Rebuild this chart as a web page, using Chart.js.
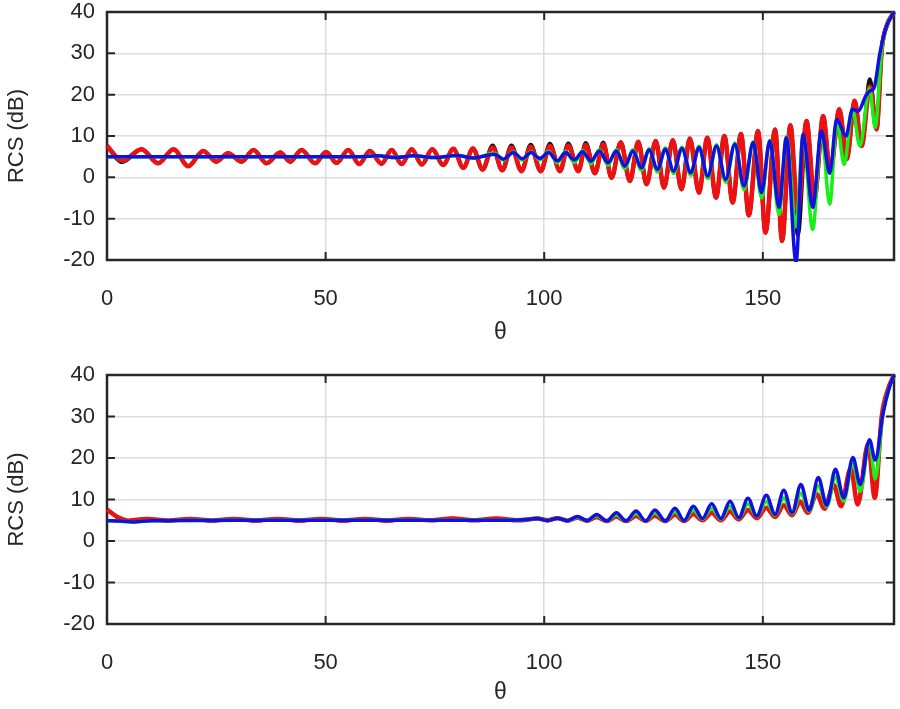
<!DOCTYPE html>
<html><head><meta charset="utf-8">
<script src="https://cdn.jsdelivr.net/npm/chart.js@4/dist/chart.umd.min.js"></script>
<style>
html,body{margin:0;padding:0;background:#fff;}
#c1{position:absolute;left:0;top:0;}
#c2{position:absolute;left:0;top:355px;}
</style></head><body>
<canvas id="c1" width="900" height="355"></canvas>
<canvas id="c2" width="900" height="354"></canvas>
<script>
// ---------- tick labels ----------
const xTickValues = [0, 50, 100, 150];
const yTickValues = [-20, -10, 0, 10, 20, 30, 40];
const xTitle = 'θ';
const yTitle = 'RCS (dB)';

// ---------- top panel ----------
const topRedTheta = [0,3.5,7.9,11.7,15.2,18.6,22,25,27.7,30.8,33.5,36.5,39.6,41.9,44.5,47.6,50.1,52.5,55.2,57.7,60.1,62.8,65.1,67.4,69.7,72,74.4,76.9,79.2,81.5,83.7,85.9,88.2,90.4,92.5,94.8,96.9,99.2,101.3,103.6,105.5,107.8,109.5,111.6,113.5,115.4,117.5,119.6,121.5,123.4,125.5,127.4,129.4,131.4,133.3,135.4,137.3,139.3,141.2,143.1,145,146.8,148.9,150.6,152.8,154.4,156.3,158,160,161.8,163.8,165.4,167.5,169.2,171,172.6,174.5,176,177.2,178.3,180];
const topRedRcs = [7.6,4.0,6.8,3.4,6.8,2.7,6.4,3.8,5.8,3.8,6.6,3.4,6.0,3.8,6.6,3.4,6.1,3.5,6.6,3.2,6.4,3.3,6.6,3.2,6.8,3.1,6.8,3.0,6.9,2.3,7.0,1.9,7.2,1.7,7.2,1.5,7.4,1.5,7.6,1.5,7.7,1.5,7.8,1.0,8.0,-0.1,8.4,-0.9,8.6,-1.7,8.8,-2.5,9.0,-2.9,9.4,-3.7,9.6,-4.9,10.0,-6.1,10.5,-9.2,11.2,-13.4,11.6,-15.4,12.6,-8,13.6,-5.3,14.8,1.2,16.5,4.4,18.5,7.6,22,11.6,31,36.6,40];
const topBlackRcs = [7.6,3.7,6.8,3.4,6.8,2.7,6.4,3.8,5.8,3.8,6.6,3.4,6.0,3.8,6.6,3.4,6.1,3.5,6.6,3.2,6.4,3.3,6.6,3.2,6.8,3.1,6.8,3.0,6.9,2.3,7.0,1.9,7.7,1.7,7.7,1.5,7.9,1.5,8.1,1.5,8.2,1.5,8.3,1.0,8.4,-0.1,8.5,-0.9,8.6,-1.7,8.8,-2.5,9.0,-2.9,9.4,-3.7,9.6,-4.9,10.0,-6.1,10.5,-9.2,11.2,-13.4,11.6,-15.4,12.6,-14,13.6,-5.3,14.8,1.2,16.5,4.4,18.5,7.6,23.7,11.6,31,36.6,40];
const topBlueTheta = [0,20,40,58,62,66,70,75,80,84,88.6,90.7,92.9,95.0,97.0,99.0,101.0,103.0,104.9,106.9,108.8,110.7,112.6,114.6,116.5,118.4,120.3,122.2,124.0,125.9,127.7,129.6,131.5,133.5,135.4,137.4,139.4,141.5,143.6,145.7,147.8,149.7,151.6,153.7,155.4,157.6,159.2,161.4,163.4,165.3,166.9,169.0,170.5,171.8,173.6,174.6,175.4,176.8,178.3,180];
const topBlueRcs = [5.0,5.0,5.0,5.0,5.2,4.8,5.2,4.8,5.3,4.7,5.6,4.4,6.0,4.5,6.0,4.6,6.0,4.0,6.0,4.2,6.2,3.9,6.4,3.5,6.4,2.7,6.4,2.3,6.6,1.9,6.8,1.5,7.0,1.1,7.2,0.3,7.6,-0.5,8.0,-2.1,8.4,-3.7,8.8,-7.3,9.6,-20.5,10.4,-7.3,11.2,1.0,14.0,10.0,16.5,16.0,19.8,21.0,21.5,30.2,36.6,40];
const topGreenTheta = [0,20,40,58,62,66,70,75,80,84,88.6,90.7,92.9,95.0,97.0,99.0,101.0,103.0,104.9,106.9,108.8,110.7,112.6,114.6,116.5,118.4,120.3,122.2,124.0,125.9,127.7,129.6,131.5,133.5,135.4,137.4,139.4,141.5,143.6,145.7,147.8,149.7,151.6,153.7,155.4,157.6,159.2,161.4,163.4,165.3,166.9,168.6,170.5,172.2,174.4,175.7,177.2,178.3,180];
const topGreenRcs = [5.0,5.0,5.0,5.0,5.2,4.8,5.2,4.8,5.3,4.7,5.8,4.2,6.2,4.2,6.2,4.2,6.3,3.5,6.3,3.6,6.5,3.3,6.7,2.9,6.7,2.1,6.7,1.7,6.9,1.3,7.1,0.9,7.3,0.5,7.5,-0.3,7.9,-1.2,8.3,-3.0,8.6,-5.0,9.0,-9.0,9.8,-12,10.0,-12.6,11.0,-6.5,13.5,3.1,16.5,7.6,21.5,12.1,31,36.6,40];

// ---------- bottom panel ----------
const botRedTheta = [0,2.5,5,9,14,19,24,29,34,39,44,49,54,59,64,69,74,79,84,89,94,98.5,100.8,103,105.3,107.6,109.8,112,114.3,116.5,118.7,121,123.2,125.3,127.7,129.9,132,134.1,136.2,138.3,140.4,142.5,144.5,146.6,148.6,150.8,152.8,154.8,156.7,158.5,160.3,162.3,164.1,166.2,167.9,170.1,171.7,174.1,175.6,177.2,178.6,180];
const botRedRcs = [7.6,5.7,4.9,5.3,4.9,5.3,4.9,5.3,4.9,5.3,4.9,5.3,4.9,5.3,4.9,5.3,5.0,5.4,5.0,5.4,5.0,5.4,5.0,5.5,4.9,5.6,4.9,5.8,4.8,5.9,4.8,6.0,4.8,6.1,4.8,6.3,4.8,6.5,5.0,6.8,5.0,7.1,5.2,7.5,5.5,8.0,5.8,8.6,6.2,9.5,6.8,11.3,7.8,13.5,8.4,17.5,8.8,23.4,10.4,30,36.5,40];
const botBlackRcs = [7.6,5.7,4.9,5.3,4.9,5.3,4.9,5.3,4.9,5.3,4.9,5.3,4.9,5.3,4.9,5.3,5.0,5.4,5.0,5.4,5.0,5.4,5.0,5.5,4.9,5.6,4.9,5.8,4.8,5.9,4.8,6.0,4.8,6.1,4.8,6.3,4.8,6.5,5.0,6.8,5.0,7.1,5.2,7.5,5.5,8.0,5.8,8.6,6.2,9.5,6.9,11.2,7.9,13.4,8.5,17.6,9.0,23.6,10.6,30,36.5,40];
const botBlueTheta = [0,3,6,10,30,50,70,90,95,98.5,100.8,103,105.3,107.6,109.8,112,114.3,116.5,118.7,121,123.2,125.3,127.7,129.9,132,134.1,136.2,138.3,140.4,142.5,144.5,146.6,148.6,150.8,152.8,154.8,156.7,158.7,160.6,162.7,164.6,166.6,168.5,170.6,172.3,174.4,175.7,177.5,179,180];
const botBlueRcs = [4.9,4.8,4.6,4.9,5.0,5.0,5.0,5.0,5.1,5.4,4.9,5.5,4.9,5.9,4.9,6.4,4.8,6.8,4.8,7.2,4.8,7.5,4.8,7.9,4.9,8.4,5.4,9.0,5.4,9.6,5.6,10.3,6.0,11.0,6.4,12.2,6.8,13.6,7.4,15.3,8.6,17.3,10.4,20.1,13.6,24.4,19.5,30.8,37.2,40];
const botGreenRcs = [4.9,4.8,4.6,4.9,5.0,5.0,5.0,5.0,5.1,5.4,4.9,5.5,4.9,5.7,4.9,6.1,4.8,6.3,4.8,6.6,4.8,6.8,4.8,7.1,4.9,7.4,5.3,7.9,5.3,8.3,5.5,8.9,5.9,9.5,6.2,10.4,6.6,11.5,7.2,13.3,8.3,15.4,9.6,18.8,12.0,24.0,15.0,30.8,37.2,40];

// ---------- colours ----------
const colBlue = '#1010e0', colGreen = '#18ee18', colRed = '#ee1111', colBlack = '#111111';

function pts(t, v){ return t.map((x,i)=>({x:x, y:v[i]})); }

function ds(label, t, v, color, w){
  return {label, data: pts(t, v), borderColor: color, backgroundColor: color,
    borderWidth: w, pointRadius: 0, fill: false, cubicInterpolationMode: 'monotone', clip: 2};
}

const framePlugin = {
  id: 'frame',
  beforeDatasetsDraw(chart){
    const {ctx, chartArea: a, scales} = chart;
    const x = scales.x, y = scales.y;
    ctx.save();
    ctx.strokeStyle = '#262626';
    ctx.lineWidth = 2.5;
    ctx.strokeRect(a.left, a.top, a.right - a.left, a.bottom - a.top);
    ctx.lineWidth = 2;
    const L = 8;
    ctx.beginPath();
    x.ticks.forEach(t => { const px = x.getPixelForValue(t.value);
      ctx.moveTo(px, a.bottom); ctx.lineTo(px, a.bottom - L);
      ctx.moveTo(px, a.top); ctx.lineTo(px, a.top + L); });
    y.ticks.forEach(t => { const py = y.getPixelForValue(t.value);
      ctx.moveTo(a.left, py); ctx.lineTo(a.left + L, py);
      ctx.moveTo(a.right, py); ctx.lineTo(a.right - L, py); });
    ctx.stroke();
    ctx.restore();
  }
};

Chart.defaults.font.family = "'Liberation Sans', Arial, sans-serif";
Chart.defaults.color = '#262626';

function makeChart(id, datasets, padTop, xHeight, titlePad){
  return new Chart(document.getElementById(id), {
    type: 'line',
    data: { datasets },
    plugins: [framePlugin],
    options: {
      responsive: false, animation: false, devicePixelRatio: 1,
      layout: { padding: { top: padTop, right: 6, left: 0, bottom: 0 } },
      plugins: { legend: { display: false }, tooltip: { enabled: false } },
      scales: {
        x: {
          type: 'linear', min: 0, max: 180,
          afterBuildTicks: s => { s.ticks = xTickValues.map(v => ({value: v})); },
          afterFit: s => { s.height = xHeight; s.paddingLeft = 0; s.paddingRight = 0; },
          grid: { color: '#dcdcdc', lineWidth: 1.5, drawTicks: false },
          border: { display: false },
          ticks: { padding: 26, font: { size: 22 }, maxRotation: 0 },
          title: { display: true, text: xTitle, font: { size: 23 }, padding: { top: 0, bottom: titlePad } }
        },
        y: {
          type: 'linear', min: -20, max: 40,
          afterBuildTicks: s => { s.ticks = yTickValues.map(v => ({value: v})); },
          afterFit: s => { s.width = 107; s.paddingTop = 0; s.paddingBottom = 0; },
          grid: { color: '#dcdcdc', lineWidth: 1.5, drawTicks: false },
          border: { display: false },
          ticks: { padding: 12, font: { size: 22 } },
          title: { display: true, text: yTitle, font: { size: 22 }, padding: { top: 4, bottom: 4 } }
        }
      }
    }
  });
}

makeChart('c1', [
  ds('blue', topBlueTheta, topBlueRcs, colBlue, 3.5),
  ds('green', topGreenTheta, topGreenRcs, colGreen, 3.5),
  ds('red', topRedTheta, topRedRcs, colRed, 4.5),
  ds('black', topRedTheta, topBlackRcs, colBlack, 4)
], 12, 95, 9);

makeChart('c2', [
  ds('blue', botBlueTheta, botBlueRcs, colBlue, 3.5),
  ds('green', botBlueTheta, botGreenRcs, colGreen, 3.5),
  ds('red', botRedTheta, botRedRcs, colRed, 4.5),
  ds('black', botRedTheta, botBlackRcs, colBlack, 3.5)
], 20, 85, 3);
</script>
</body></html>
